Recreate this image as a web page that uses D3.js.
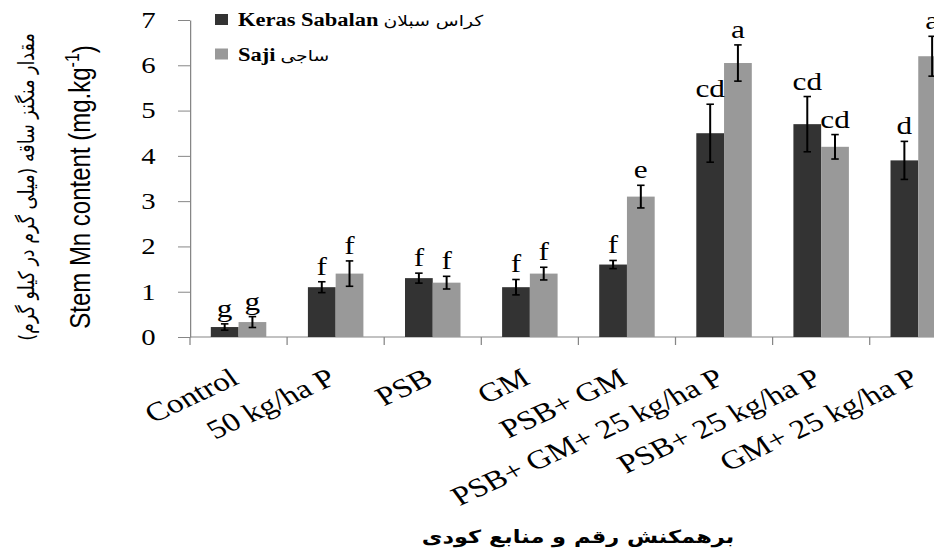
<!DOCTYPE html>
<html>
<head>
<meta charset="utf-8">
<script src="https://cdn.jsdelivr.net/npm/d3@7"></script>
<style>
  body { margin: 0; background: #fff; }
  svg { display: block; }
</style>
</head>
<body>
<svg id="chart"></svg>
<script>
const categories = ["Control", "50 kg/ha P", "PSB", "GM", "PSB+ GM", "PSB+ GM+ 25 kg/ha P", "PSB+ 25 kg/ha P", "GM+ 25 kg/ha P"];
const series = ["Keras Sabalan", "Saji"];
const seriesFa = ["كراس سبلان", "ساجی"];
const kerasValues = [0.22, 1.1, 1.3, 1.1, 1.6, 4.5, 4.7, 3.9];
const sajiValues = [0.33, 1.4, 1.2, 1.4, 3.1, 6.05, 4.2, 6.2];
const kerasErrors = [0.07, 0.12, 0.11, 0.17, 0.09, 0.64, 0.61, 0.42];
const sajiErrors = [0.12, 0.28, 0.14, 0.14, 0.25, 0.4, 0.27, 0.44];
const kerasLetters = ["g", "f", "f", "f", "f", "cd", "cd", "d"];
const sajiLetters = ["g", "f", "f", "f", "e", "a", "cd", "a"];
const yTicks = [0, 1, 2, 3, 4, 5, 6, 7];

const width = 934;
const height = 554;
// the original picture is stretched sideways, so everything is drawn
// in a narrower space and scaled back out
const S = 1.25;

const colors = { "Keras Sabalan": "#333333", "Saji": "#999999" };
const serif = "'Liberation Serif', 'Times New Roman', serif";
const arabic = "'DejaVu Sans', sans-serif";
const axisGrey = "#868686";

const svg = d3.select("#chart").attr("width", width).attr("height", height);
const g = svg.append("g").attr("transform", `scale(${S},1)`);

const plotLeft = 190 / S;
const plotRight = 966.8 / S; // plot runs past the right edge of the picture
const plotBottom = 337;
const plotTop = 20;

const x = d3.scaleBand().domain(categories).range([plotLeft, plotRight]);
const xSub = d3.scaleBand().domain(series).range([0, x.bandwidth()]).paddingOuter(0.75);
const y = d3.scaleLinear().domain([0, 7]).range([plotBottom, plotTop]);

const rows = categories.map((c, i) => [
  { cat: c, key: series[0], value: kerasValues[i], err: kerasErrors[i], letter: kerasLetters[i] },
  { cat: c, key: series[1], value: sajiValues[i], err: sajiErrors[i], letter: sajiLetters[i] },
]);

// y axis
const yAxis = g
  .append("g")
  .attr("transform", `translate(${plotLeft},0)`)
  .call(
    d3.axisLeft(y)
      .tickValues(yTicks)
      .tickSize(12 / S)
      .tickSizeOuter(0)
      .tickPadding(18)
      .tickFormat(d3.format("d"))
  );
yAxis.select(".domain").attr("stroke", axisGrey);
yAxis.selectAll(".tick line").attr("stroke", axisGrey);
yAxis.selectAll(".tick text")
  .attr("fill", "#000")
  .style("font-family", serif)
  .style("font-size", "23px");

// x axis (ticks between categories)
g.append("line")
  .attr("x1", plotLeft).attr("x2", plotRight)
  .attr("y1", plotBottom).attr("y2", plotBottom)
  .attr("stroke", axisGrey);
g.selectAll(".xtick")
  .data(categories.map((c) => x(c)).concat([plotRight]))
  .join("line")
  .attr("class", "xtick")
  .attr("x1", (d) => d).attr("x2", (d) => d)
  .attr("y1", plotBottom).attr("y2", plotBottom + 8)
  .attr("stroke", axisGrey);

g.selectAll(".xlab")
  .data(categories)
  .join("text")
  .attr("class", "xlab")
  .attr("transform", (c) => `translate(${x(c) + x.bandwidth() / 2 + 2 / S},${plotBottom + 46}) rotate(-30)`)
  .attr("text-anchor", "end")
  .style("font-family", serif)
  .style("font-size", "26.5px")
  .text((c) => c);

// bars
const groups = g.selectAll(".cat")
  .data(rows)
  .join("g")
  .attr("class", "cat")
  .attr("transform", (d) => `translate(${x(d[0].cat)},0)`);

groups.selectAll("rect")
  .data((d) => d)
  .join("rect")
  .attr("x", (d) => xSub(d.key))
  .attr("y", (d) => y(d.value))
  .attr("width", xSub.bandwidth())
  .attr("height", (d) => y(0) - y(d.value))
  .attr("fill", (d) => colors[d.key]);

// error bars
const cap = 3;
const eb = groups.selectAll(".err")
  .data((d) => d)
  .join("g")
  .attr("class", "err")
  .attr("stroke", "#000")
  .attr("stroke-width", 1.6);
eb.append("line")
  .attr("x1", (d) => xSub(d.key) + xSub.bandwidth() / 2)
  .attr("x2", (d) => xSub(d.key) + xSub.bandwidth() / 2)
  .attr("y1", (d) => y(d.value - d.err))
  .attr("y2", (d) => y(d.value + d.err));
eb.append("line")
  .attr("x1", (d) => xSub(d.key) + xSub.bandwidth() / 2 - cap)
  .attr("x2", (d) => xSub(d.key) + xSub.bandwidth() / 2 + cap)
  .attr("y1", (d) => y(d.value + d.err))
  .attr("y2", (d) => y(d.value + d.err));
eb.append("line")
  .attr("x1", (d) => xSub(d.key) + xSub.bandwidth() / 2 - cap)
  .attr("x2", (d) => xSub(d.key) + xSub.bandwidth() / 2 + cap)
  .attr("y1", (d) => y(d.value - d.err))
  .attr("y2", (d) => y(d.value - d.err));

// significance letters
groups.selectAll(".letter")
  .data((d) => d)
  .join("text")
  .attr("class", "letter")
  .attr("x", (d) => xSub(d.key) + xSub.bandwidth() / 2)
  .attr("y", (d) => y(d.value + d.err) - 7)
  .attr("text-anchor", "middle")
  .style("font-family", serif)
  .style("font-size", "25px")
  .text((d) => d.letter);

// legend (latin and persian names as separate texts)
const legend = g.selectAll(".legend")
  .data(series)
  .join("g")
  .attr("class", "legend")
  .attr("transform", (d, i) => `translate(${215 / S},${14 + i * 34.5})`);
legend.append("rect")
  .attr("width", 13 / S)
  .attr("height", 11)
  .attr("fill", (d) => colors[d]);
const latin = legend.append("text")
  .attr("x", 23 / S)
  .attr("y", 12)
  .attr("font-family", "Liberation Serif")
  .attr("font-size", 18)
  .attr("font-weight", "bold")
  .text((d) => d);
legend.append("text")
  .attr("x", function (d, i) {
    return 23 / S + latin.nodes()[i].getComputedTextLength() + 4;
  })
  .attr("y", 12)
  .attr("font-family", "DejaVu Sans")
  .attr("font-size", 15)
  .text((d, i) => seriesFa[i]);

// y axis title
g.append("text")
  .attr("transform", `translate(${28 / S},187) rotate(-90)`)
  .attr("text-anchor", "middle")
  .attr("dominant-baseline", "middle")
  .style("font-family", arabic)
  .style("font-size", "17.5px")
  .text("مقدار منگنز ساقه (میلی گرم در کیلو گرم)");

const yTitle = g.append("text")
  .attr("transform", `translate(${82 / S},187) rotate(-90)`)
  .attr("text-anchor", "middle")
  .attr("dominant-baseline", "middle")
  .style("font-family", "'Liberation Sans Narrow', 'Arial Narrow', 'Liberation Sans', sans-serif")
  .style("font-size", "24px");
yTitle.append("tspan").text("Stem Mn content (mg.kg");
yTitle.append("tspan").attr("dy", "-0.45em").style("font-size", "16px").text("-1");
yTitle.append("tspan").attr("dy", "0.45em").text(")");

// x axis title
g.append("text")
  .attr("x", 578 / S)
  .attr("y", 543)
  .attr("text-anchor", "middle")
  .style("font-family", arabic)
  .style("font-weight", "bold")
  .style("font-size", "18px")
  .text("برهمکنش رقم و منابع کودی");
</script>
</body>
</html>
